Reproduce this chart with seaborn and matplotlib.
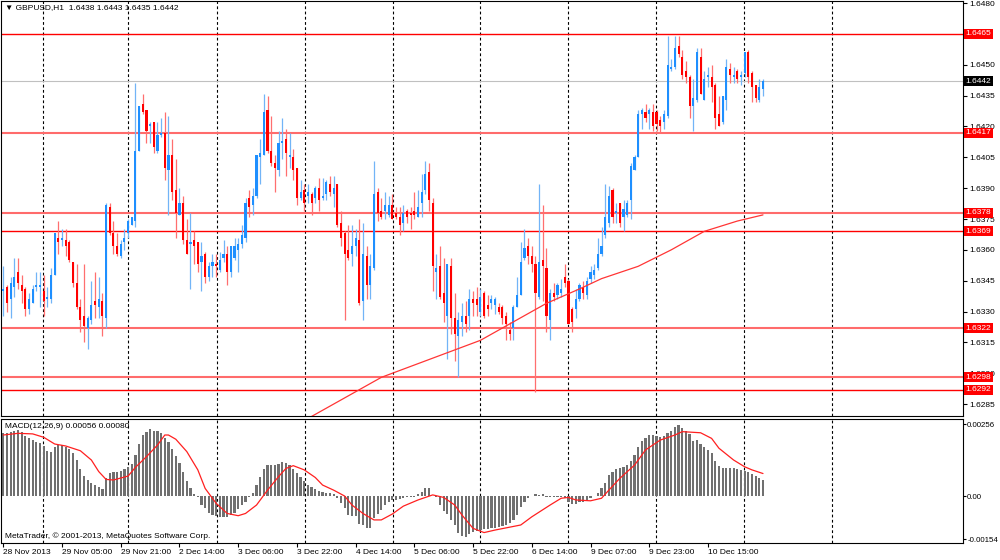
import numpy as np
import pandas as pd
import matplotlib
matplotlib.use("Agg")
import matplotlib.pyplot as plt
import matplotlib.transforms as mtransforms
import seaborn as sns

# GBPUSD H1 bars, prices as pips above 1.6000 (341 -> 1.6341)
opens = [340, 342, 336, 342, 349, 343, 341, 331, 334, 342,
         342, 340, 336, 336, 348, 366, 365, 365, 364, 354,
         344, 332, 328, 322, 326, 335, 332, 335, 327, 381,
         368, 362, 357, 364, 368, 372, 374, 408, 431, 428,
         420, 422, 408, 416, 417, 399, 406, 389, 377, 383,
         365, 363, 365, 364, 354, 358, 347, 352, 353, 350,
         356, 358, 349, 356, 360, 363, 366, 385, 382, 386,
         405, 406, 428, 408, 402, 399, 412, 414, 405, 405,
         400, 385, 389, 386, 387, 385, 390, 385, 387, 392,
         387, 392, 373, 368, 360, 358, 362, 365, 335, 357,
         343, 351, 388, 379, 379, 377, 382, 378, 376, 373,
         379, 378, 379, 376, 383, 389, 398, 383, 349, 352,
         339, 328, 352, 327, 318, 325, 328, 328, 336, 336,
         330, 339, 333, 334, 333, 332, 332, 328, 321, 322,
         332, 338, 356, 362, 357, 353, 337, 355, 351, 326,
         339, 338, 339, 347, 345, 331, 331, 336, 342, 338,
         346, 348, 351, 358, 367, 373, 389, 378, 383, 376,
         377, 384, 399, 405, 426, 427, 426, 427, 427, 423,
         422, 425, 448, 449, 459, 454, 447, 444, 430, 433,
         454, 433, 444, 444, 440, 426, 422, 433, 448, 444,
         447, 444, 446, 456, 446, 440, 433, 438]
highs = [352, 343, 347, 356, 356, 348, 342, 339, 343, 349,
         349, 348, 342, 351, 368, 374, 370, 370, 365, 354,
         353, 336, 353, 328, 345, 349, 347, 339, 383, 383,
         374, 368, 365, 370, 375, 376, 441, 430, 436, 428,
         422, 422, 422, 424, 427, 425, 414, 404, 390, 386,
         375, 378, 369, 364, 364, 359, 354, 358, 358, 359,
         365, 362, 362, 366, 366, 372, 385, 389, 390, 406,
         414, 436, 435, 425, 406, 418, 424, 419, 417, 409,
         400, 394, 392, 392, 388, 391, 395, 395, 394, 396,
         396, 392, 379, 369, 372, 372, 370, 375, 373, 362,
         358, 403, 390, 385, 388, 386, 387, 381, 381, 382,
         380, 381, 388, 389, 397, 403, 402, 385, 358, 362,
         356, 353, 356, 339, 330, 334, 335, 341, 340, 342,
         341, 340, 338, 338, 337, 334, 333, 330, 325, 333,
         347, 364, 370, 366, 362, 357, 392, 382, 361, 341,
         344, 344, 346, 353, 346, 332, 341, 344, 345, 347,
         352, 353, 366, 371, 392, 391, 390, 383, 383, 384,
         384, 402, 406, 428, 429, 431, 429, 431, 428, 425,
         428, 464, 453, 464, 464, 457, 452, 445, 443, 458,
         458, 447, 449, 450, 441, 435, 435, 453, 451, 449,
         448, 447, 456, 457, 447, 440, 443, 443]
lows = [328, 330, 327, 337, 341, 334, 328, 329, 334, 340,
        332, 328, 332, 334, 348, 358, 362, 357, 354, 342,
        331, 320, 315, 312, 324, 327, 327, 318, 322, 367,
        358, 357, 356, 360, 366, 372, 371, 408, 426, 412,
        412, 407, 407, 415, 394, 377, 384, 366, 377, 363,
        358, 341, 353, 349, 340, 344, 345, 347, 347, 349,
        354, 343, 347, 355, 349, 361, 364, 376, 377, 385,
        392, 406, 407, 401, 388, 396, 404, 396, 400, 394,
        382, 384, 379, 383, 377, 383, 379, 384, 384, 386,
        381, 371, 362, 326, 355, 352, 357, 333, 326, 336,
        336, 350, 374, 375, 375, 376, 375, 375, 367, 369,
        373, 370, 375, 376, 376, 387, 379, 340, 336, 336,
        325, 307, 319, 306, 298, 318, 320, 321, 328, 328,
        328, 327, 328, 331, 329, 329, 324, 316, 316, 316,
        332, 338, 355, 353, 349, 291, 336, 335, 320, 316,
        335, 336, 337, 342, 324, 320, 327, 335, 336, 336,
        344, 346, 350, 357, 366, 371, 373, 373, 371, 369,
        376, 375, 399, 405, 419, 422, 419, 418, 418, 417,
        419, 424, 447, 448, 454, 443, 441, 424, 418, 432,
        436, 433, 439, 432, 419, 420, 421, 428, 441, 441,
        441, 440, 444, 441, 432, 432, 432, 435]
closes = [341, 334, 344, 347, 344, 340, 331, 336, 341, 343,
          343, 335, 337, 348, 368, 364, 366, 362, 355, 344,
          332, 326, 323, 327, 333, 333, 336, 328, 382, 368,
          362, 358, 363, 366, 374, 376, 408, 430, 427, 418,
          421, 410, 416, 417, 400, 406, 388, 378, 383, 365,
          358, 364, 362, 353, 357, 347, 352, 354, 352, 355,
          358, 349, 362, 362, 363, 367, 383, 381, 386, 406,
          407, 427, 408, 402, 400, 412, 413, 407, 406, 399,
          385, 388, 383, 388, 383, 390, 384, 386, 393, 388,
          390, 372, 366, 358, 356, 362, 366, 334, 358, 343,
          352, 387, 378, 376, 382, 382, 375, 376, 372, 378,
          376, 377, 377, 381, 388, 397, 384, 352, 351, 337,
          334, 353, 327, 319, 326, 328, 324, 336, 334, 333,
          337, 328, 331, 336, 336, 330, 327, 324, 319, 332,
          338, 354, 361, 357, 353, 339, 354, 352, 328, 339,
          337, 343, 341, 344, 324, 325, 336, 343, 339, 345,
          349, 350, 358, 362, 376, 386, 376, 379, 373, 380,
          383, 401, 405, 426, 428, 424, 428, 420, 421, 420,
          426, 450, 449, 458, 455, 445, 444, 430, 434, 456,
          436, 443, 445, 439, 424, 420, 435, 449, 445, 445,
          443, 445, 456, 444, 439, 434, 439, 442]

# moving average (red line on price), sampled: bar index, pips
ma_bar = [82, 84, 97, 103, 112, 121, 130, 139, 148, 157, 163, 173, 182, 191, 200, 207]
ma_val = [277, 279, 292, 298, 304, 310, 316, 325, 334, 341, 346, 352, 360, 369, 374, 377]

# MACD(12,26,9) histogram, units of 0.00001, one per bar
macd_hist = [223, 225, 229, 232, 235, 229, 213, 205, 199, 193,
             187, 178, 161, 158, 173, 181, 181, 176, 166, 152,
             128, 95, 71, 57, 47, 39, 33, 24, 63, 83,
             87, 87, 90, 95, 102, 114, 146, 185, 217, 229,
             237, 232, 232, 225, 205, 193, 166, 142, 119, 87,
             55, 27, 7, -5, -32, -44, -59, -68, -71, -76,
             -76, -74, -68, -59, -47, -32, -20, -5, 9, 39,
             66, 95, 110, 110, 110, 114, 122, 119, 110, 95,
             81, 66, 55, 39, 31, 24, 19, 15, 12, 12,
             7, -8, -24, -44, -68, -71, -71, -100, -103, -112,
             -112, -79, -64, -50, -32, -20, -14, -14, -12, -8,
             -5, -5, -2, 7, 15, 27, 27, 0, -5, -32,
             -52, -64, -85, -103, -133, -142, -145, -135, -127, -123,
             -121, -119, -119, -115, -112, -109, -107, -103, -97, -85,
             -68, -38, -20, -8, 0, 7, 4, 7, -5, -5,
             -5, -5, -5, -8, -20, -28, -28, -20, -20, -17,
             -8, 0, 12, 27, 47, 75, 87, 95, 98, 102,
             110, 126, 146, 173, 197, 205, 217, 217, 213, 211,
             213, 223, 232, 244, 252, 241, 232, 221, 197, 199,
             185, 173, 164, 154, 126, 107, 98, 98, 98, 98,
             95, 93, 90, 87, 78, 71, 63, 56]

# signal line, sampled: bar index, units of 0.00001
sig_bar = [0, 4, 8, 11, 14, 17, 21, 24, 26, 28, 30, 34, 36, 39, 42, 44, 45, 47, 50, 53,
           55, 58, 61, 64, 66, 69, 72, 75, 77, 79, 82, 85, 87, 90, 93, 95, 98, 101, 103, 106,
           109, 113, 117, 120, 123, 125, 128, 131, 134, 141, 144, 149, 152, 154, 156, 160, 163, 165, 168, 172,
           175, 179, 183, 185, 190, 193, 195, 199, 202, 204, 207]
sig_val = [217, 223, 221, 209, 185, 178, 161, 128, 87, 59, 57, 71, 102, 140, 181, 217, 217, 202, 158, 93,
           27, -26, -62, -70, -62, -32, 21, 69, 98, 108, 93, 66, 39, 21, 0, -32, -62, -85, -85, -64,
           -36, -14, 4, -5, -32, -68, -115, -130, -121, -103, -74, -32, -8, -5, -14, -17, -8, 21, 63, 110,
           164, 199, 217, 229, 225, 205, 170, 128, 104, 93, 80]

levels = [1.6465, 1.6417, 1.6378, 1.6369, 1.6322, 1.6298, 1.6292]
level_heavy = [False, True, True, False, True, True, False]
bid = 1.6442

price_ticks = [1.6480, 1.6465, 1.6450, 1.6435, 1.6420, 1.6405, 1.6390, 1.6375,
               1.6360, 1.6345, 1.6330, 1.6315, 1.6300, 1.6285]
macd_ticks = [0.00256, 0.0, -0.00154]
macd_tick_labels = ["0.00256", "0.00", "-0.00154"]

time_pos = [0, 16, 32, 48, 64, 80, 96, 112, 128, 144, 160, 176, 192]
time_labels = ["28 Nov 2013", "29 Nov 05:00", "29 Nov 21:00", "2 Dec 14:00", "3 Dec 06:00",
               "3 Dec 22:00", "4 Dec 14:00", "5 Dec 06:00", "5 Dec 22:00", "6 Dec 14:00",
               "9 Dec 07:00", "9 Dec 23:00", "10 Dec 15:00"]
day_lines = [10.9, 34.1, 58.1, 82.1, 106.1, 130.0, 153.9, 177.8, 201.8, 225.7]

sns.set_style("white")
plt.rcParams["font.family"] = ["Liberation Sans", "DejaVu Sans"]
FS = 6

df = pd.DataFrame({"o": opens, "h": highs, "l": lows, "c": closes})
df = 1.6 + df / 10000.0
df["bar"] = np.arange(len(df))
up = df["c"] >= df["o"]

fig = plt.figure(figsize=(10, 5.6), dpi=100)
ax = fig.add_axes([0.001, 0.2571, 0.962, 0.7411])
ax2 = fig.add_axes([0.001, 0.0304, 0.962, 0.2214])
xlim = (-0.63, 261.5)

# --- price panel
ax.set_xlim(*xlim)
ax.set_ylim(1.62792, 1.6481)

for d in day_lines:
    for a in (ax, ax2):
        a.axvline(d, color="black", lw=0.8, ls=(0, (2.5, 2.2)), zorder=1)

ax.axhline(bid, color="#c0c0c0", lw=0.8, zorder=1)
for lvl, heavy in zip(levels, level_heavy):
    if heavy:
        ax.axhline(lvl, color="#ff6b6b", lw=1.5, zorder=1.2)
    else:
        ax.axhline(lvl, color="#ff0000", lw=1.0, zorder=1.2)

wick_cols = np.where(up, "#72b4f7", "#ff6f6f")
body_cols = np.where(up, "#1e8fff", "#ff0000")
ax.vlines(df["bar"], df["l"], df["h"], colors=wick_cols, lw=0.9, zorder=2)
bottoms = np.minimum(df["o"], df["c"])
heights = np.maximum((df["c"] - df["o"]).abs(), 0.00004)
ax.bar(df["bar"], heights, bottom=bottoms, width=0.58, color=body_cols, linewidth=0, zorder=3)

ma = pd.DataFrame({"bar": ma_bar, "price": 1.6 + np.array(ma_val) / 10000.0})
sns.lineplot(data=ma, x="bar", y="price", ax=ax, color="#ff3535", lw=0.9, zorder=4)

# tick labels hidden completely behind a level box are left blank
covered = {f"{lvl:.4f}" for lvl in levels}
ax.yaxis.tick_right()
ax.set_yticks(price_ticks)
ax.set_yticklabels(["" if f"{t:.4f}" in covered else f"{t:.4f}" for t in price_ticks])
ax.set_xticks([])
ax.set_xlabel("")
ax.set_ylabel("")
ax.tick_params(axis="y", direction="out", length=3, width=0.8, pad=1.5,
               labelsize=FS, colors="black", right=True, left=False)

tr = mtransforms.blended_transform_factory(ax.transAxes, ax.transData)
for lvl in levels:
    ax.text(1.0025, lvl, f"{lvl:.4f}", transform=tr, ha="left", va="center",
            fontsize=FS, color="white", clip_on=False, zorder=10,
            bbox=dict(boxstyle="square,pad=0.18", fc="#ff0000", ec="none"))
ax.text(1.0025, bid, f"{bid:.4f}", transform=tr, ha="left", va="center",
        fontsize=FS, color="white", clip_on=False, zorder=10,
        bbox=dict(boxstyle="square,pad=0.18", fc="black", ec="none"))

last = df.iloc[-1]
ax.text(0.004, 0.992,
        f"\u25bc GBPUSD,H1  {last['o']:.4f} {last['h']:.4f} {last['l']:.4f} {last['c']:.4f}",
        transform=ax.transAxes, ha="left", va="top", fontsize=FS, color="black", zorder=10)

# --- MACD panel
ax2.set_xlim(*xlim)
ax2.set_ylim(-0.00167, 0.00274)
hist = np.array(macd_hist) / 1e5
ax2.bar(np.arange(len(hist)), hist, width=0.6, color="#707070", linewidth=0, zorder=2)
sig = pd.DataFrame({"bar": sig_bar, "val": np.array(sig_val) / 1e5})
sns.lineplot(data=sig, x="bar", y="val", ax=ax2, color="#ff2020", lw=0.9, zorder=4)

ax2.yaxis.tick_right()
ax2.set_yticks(macd_ticks)
ax2.set_yticklabels(macd_tick_labels)
ax2.set_xticks(time_pos)
ax2.set_xticklabels(time_labels)
for lbl in ax2.get_xticklabels():
    lbl.set_ha("left")
ax2.set_xlabel("")
ax2.set_ylabel("")
ax2.tick_params(axis="x", direction="out", length=3, width=0.8, pad=1.5,
                labelsize=FS, colors="black", bottom=True)
ax2.tick_params(axis="y", direction="out", length=2, width=0.8, pad=1.0,
                labelsize=5.7, colors="black", right=True, left=False)

ax2.text(0.004, 0.965, f"MACD(12,26,9) {hist[-1]:.5f} {sig_val[-1] / 1e5:.5f}",
         transform=ax2.transAxes, ha="left", va="top", fontsize=FS, color="black", zorder=10)
ax2.text(0.004, 0.025, "MetaTrader, \u00a9 2001-2013, MetaQuotes Software Corp.",
         transform=ax2.transAxes, ha="left", va="bottom", fontsize=FS, color="black", zorder=10)

for a in (ax, ax2):
    for s in a.spines.values():
        s.set_visible(True)
        s.set_color("black")
        s.set_linewidth(0.8)

fig.savefig("out.png", dpi=100)
